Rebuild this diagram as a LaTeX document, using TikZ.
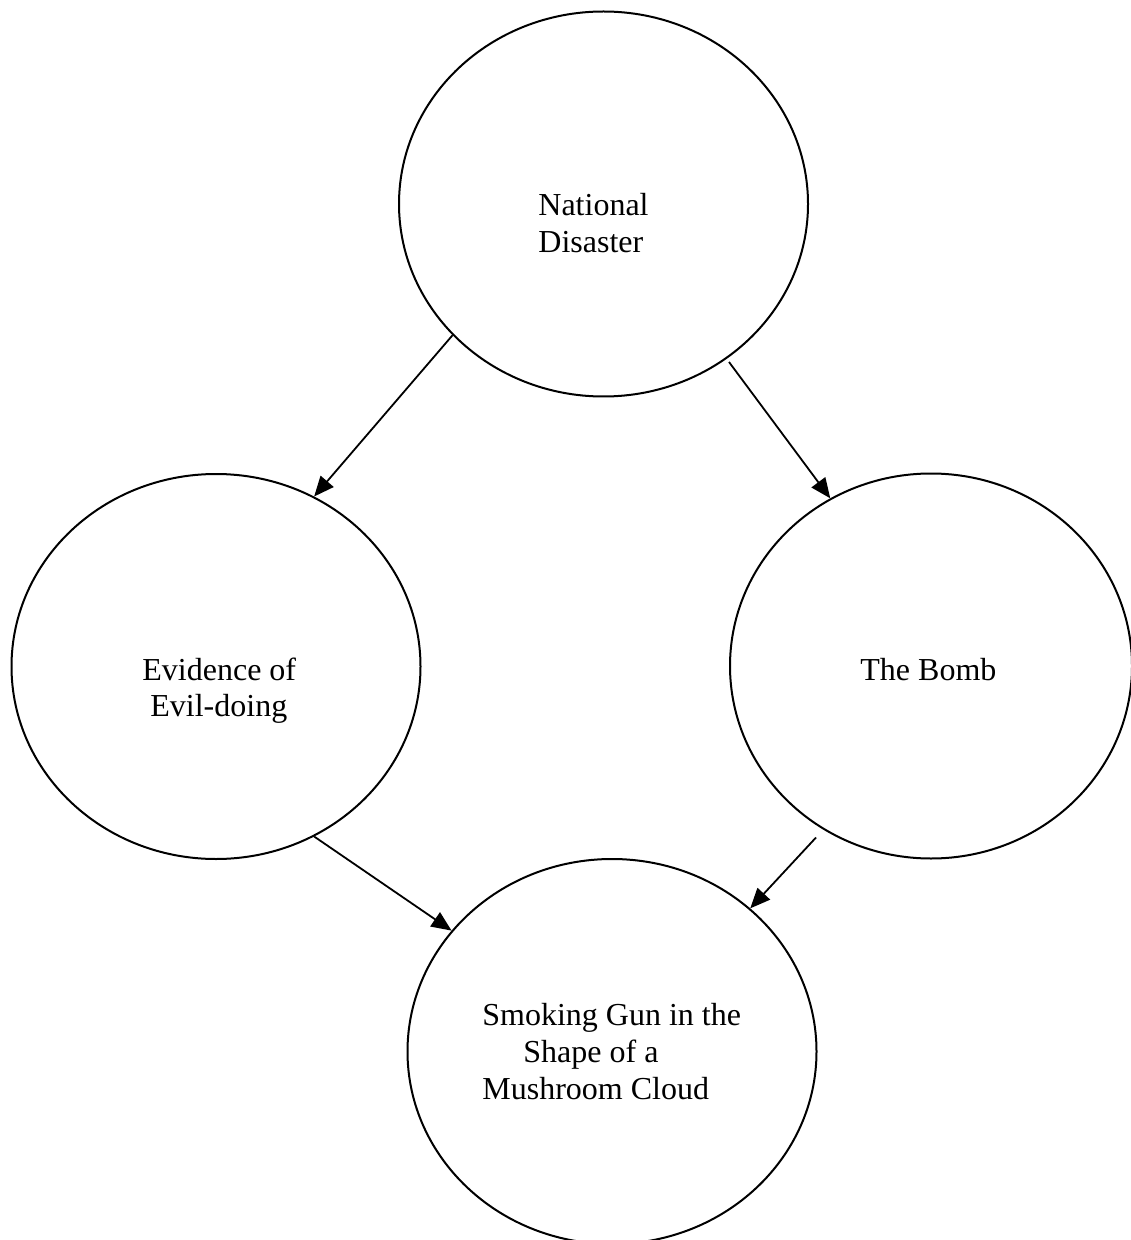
\documentclass[tikz,border=0pt]{standalone}
\usepackage{fontspec}
\setmainfont{Liberation Serif}
\usetikzlibrary{shapes.geometric,arrows.meta}

\begin{document}
\begin{tikzpicture}[x=0.5pt,y=-0.5pt,
  bubble/.style={draw,ellipse,line width=1pt,inner sep=0pt,
    minimum width=204.5pt,minimum height=192.5pt},
  txt/.style={anchor=base west,inner sep=0pt,font=\fontsize{16}{18.5}\selectfont},
  link/.style={line width=0.9pt,-{Triangle[length=10pt,width=8.5pt]}}]
  \useasboundingbox (0,0) rectangle (1130,1240);

  % the four bubbles
  \node[bubble] (disaster) at (603.5,204) {};
  \node[bubble] (evidence) at (216,666.5) {};
  \node[bubble,minimum width=201pt] (bomb) at (931,666) {};
  \node[bubble] (gun) at (612,1051.5) {};

  % labels
  \node[txt] (t1a) at (538,216) {National};
  \node[txt] (t1b) at (538,253) {Disaster};
  \node[txt] (t2a) at (142,680) {Evidence of};
  \node[txt] (t2b) at (150,716) {Evil-doing};
  \node[txt] (t3a) at (860,680) {The Bomb};
  \node[txt] (t4a) at (482,1025) {Smoking Gun in the};
  \node[txt] (t4b) at (523,1062) {Shape of a};
  \node[txt] (t4c) at (482,1099) {Mushroom Cloud};

  % loose starts of two connectors
  \coordinate (bombfrom) at (729,362);
  \coordinate (gunfrom) at (816,837.5);

  % connectors
  \draw[link] (disaster.-139.3) -- (evidence.60.2);
  \draw[link] (bombfrom) -- (bomb.121.6);
  \draw[link] (evidence.-60.4) -- (gun.143.8);
  \draw[link] (gunfrom) -- (gun.46);
\end{tikzpicture}
\end{document}
